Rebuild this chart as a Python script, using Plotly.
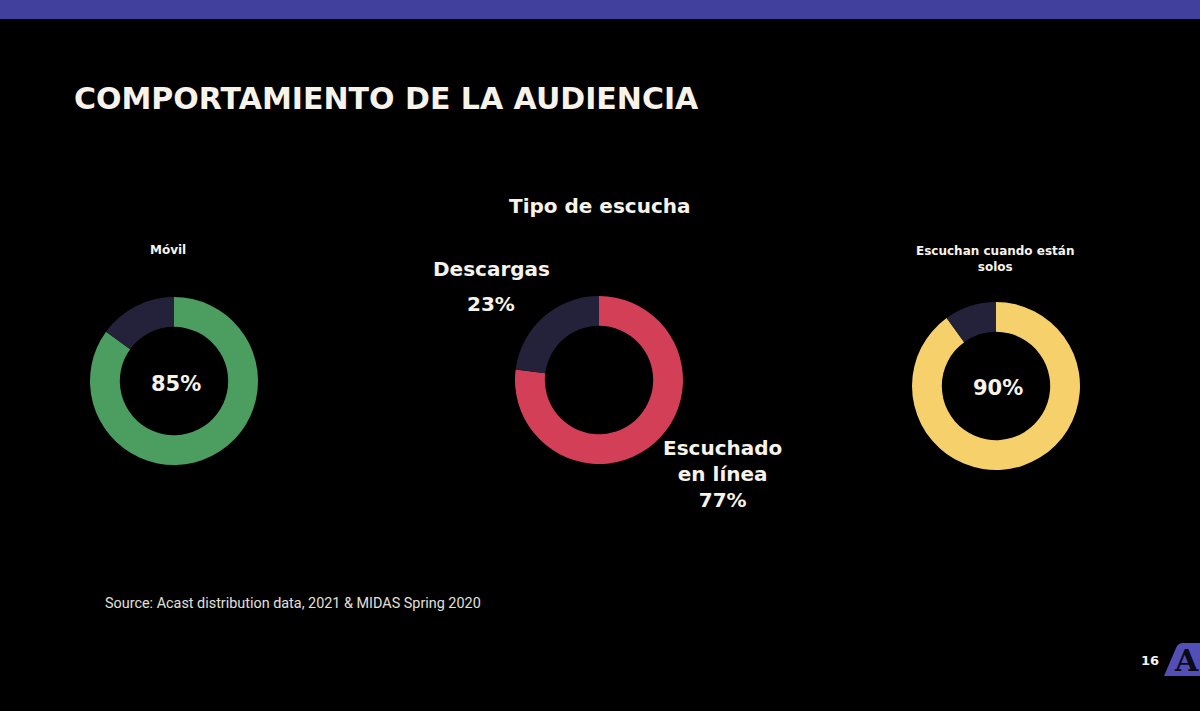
import plotly.graph_objects as go

W, H = 1200, 711

# ---- data ----
movil_labels = ["Móvil", "Otro"]
movil_values = [85, 15]
tipo_labels = ["Escuchado en línea", "Descargas"]
tipo_values = [77, 23]
solos_labels = ["Solos", "Acompañados"]
solos_values = [90, 10]

title_text = "COMPORTAMIENTO DE LA AUDIENCIA"
source_text = "Source: Acast distribution data, 2021 & MIDAS Spring 2020"
page_number = "16"

GREEN = "#4b9e5f"
RED = "#d43f58"
YELLOW = "#f6d16b"
DARK = "#23223a"
TXT = "#f7f3ea"
PURPLE = "#41409c"
BOLDFONT = "DejaVu Sans"


def px(x):
    return x / W


def py(y):
    return 1 - y / H


def dom(cx, cy, r):
    return dict(x=[px(cx - r), px(cx + r)], y=[py(cy + r), py(cy - r)])


fig = go.Figure()

common = dict(hole=0.645, sort=False, direction="clockwise", rotation=0,
              textinfo="none", hoverinfo="label+percent", showlegend=False)

fig.add_trace(go.Pie(labels=movil_labels, values=movil_values,
                     marker=dict(colors=[GREEN, DARK], line=dict(width=0)),
                     domain=dom(174, 381, 84), **common))
fig.add_trace(go.Pie(labels=tipo_labels, values=tipo_values,
                     marker=dict(colors=[RED, DARK], line=dict(width=0)),
                     domain=dom(599, 380, 84), **common))
fig.add_trace(go.Pie(labels=solos_labels, values=solos_values,
                     marker=dict(colors=[YELLOW, DARK], line=dict(width=0)),
                     domain=dom(996, 386, 84), **common))

ann = []


def add(text, x, y, size, color=TXT, family=BOLDFONT, xanchor="center",
        bold=True):
    t = f"<b>{text}</b>" if bold else text
    ann.append(dict(text=t, x=px(x), y=py(y), xref="paper", yref="paper",
                    xanchor=xanchor, yanchor="middle", showarrow=False,
                    font=dict(size=size, color=color, family=family)))


add(title_text, 72, 98, 30, xanchor="left")
add("Móvil", 168, 250, 12)
add(f"{movil_values[0]}%", 176, 384, 21)
add("Tipo de escucha", 600, 206, 20)
add("Descargas", 491, 269, 20)
add(f"{tipo_values[1]}%", 491, 304, 20)
add(f"Escuchado<br>en línea<br>{tipo_values[0]}%", 722, 474, 20)
add("Escuchan cuando están<br>solos", 995, 259, 12)
add(f"{solos_values[0]}%", 998, 388, 21)
add(source_text, 103, 603, 14.4, color="#e2e0da", family="Roboto",
    xanchor="left", bold=False)
add(page_number, 1150, 660, 13)
add("A", 1186, 660, 30, color="#0a0a14", family="DejaVu Serif")

shapes = [
    dict(type="rect", xref="paper", yref="paper", x0=0, x1=1, y0=py(19), y1=1,
         fillcolor=PURPLE, line=dict(width=0), layer="below"),
    dict(type="path", xref="paper", yref="paper",
         path=(f"M {px(1164)},{py(676)} L {px(1176)},{py(648)} "
               f"Q {px(1178)},{py(643)} {px(1183)},{py(643)} "
               f"L {px(1200)},{py(643)} L {px(1200)},{py(676)} Z"),
         fillcolor="#5250b8", line=dict(width=0), layer="below"),
]

fig.update_layout(
    width=W, height=H,
    margin=dict(l=0, r=0, t=0, b=0),
    paper_bgcolor="#000000", plot_bgcolor="#000000",
    annotations=ann, shapes=shapes,
)

fig.write_html("out.html")
